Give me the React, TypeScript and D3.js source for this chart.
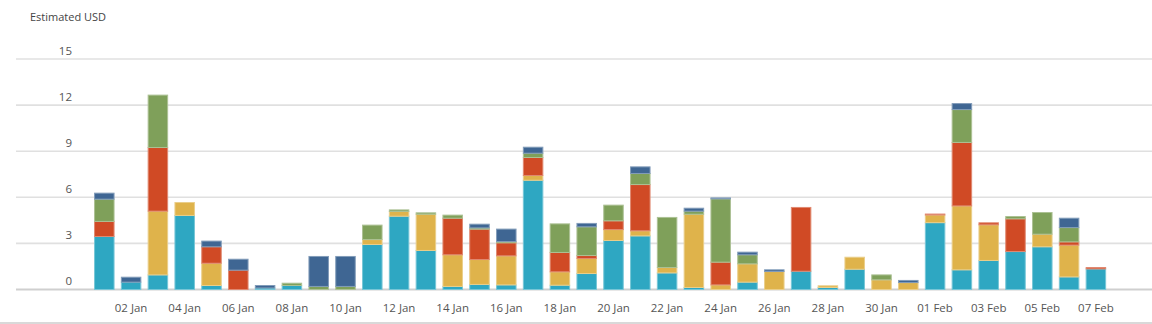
import React from "react";
import * as d3 from "d3";

const dates = [
  "01 Jan","02 Jan","03 Jan","04 Jan","05 Jan","06 Jan","07 Jan","08 Jan","09 Jan","10 Jan",
  "11 Jan","12 Jan","13 Jan","14 Jan","15 Jan","16 Jan","17 Jan","18 Jan","19 Jan","20 Jan",
  "21 Jan","22 Jan","23 Jan","24 Jan","25 Jan","26 Jan","27 Jan","28 Jan","29 Jan","30 Jan",
  "31 Jan","01 Feb","02 Feb","03 Feb","04 Feb","05 Feb","06 Feb","07 Feb",
];

const teal = [3.45,0.48,0.95,4.82,0.26,0,0.1,0.26,0,0,2.93,4.77,2.54,0.2,0.33,0.3,7.11,0.28,1.04,3.19,3.49,1.08,0.13,0,0.48,0,1.19,0.13,1.32,0,0,4.35,1.28,1.89,2.47,2.78,0.82,1.34];
const yellow = [0,0,4.15,0.84,1.45,0,0,0,0,0,0.32,0.31,2.36,2.06,1.62,1.89,0.31,0.87,0.98,0.71,0.33,0.35,4.77,0.3,1.19,1.17,0,0.11,0.78,0.63,0.45,0.5,4.16,2.32,0,0.82,2.07,0];
const red = [0.98,0,4.14,0,1.07,1.26,0,0,0,0,0,0,0,2.38,1.98,0.85,1.17,1.26,0.19,0.57,3.01,0,0,1.48,0,0,4.15,0,0,0,0,0.06,4.13,0.13,2.13,0,0.21,0.09];
const green = [1.45,0,3.41,0,0,0,0,0.15,0.2,0.2,0.94,0.1,0.09,0.2,0.08,0.08,0.28,1.86,1.87,1.02,0.72,3.26,0.2,4.12,0.59,0,0,0,0,0.32,0,0,2.14,0,0.15,1.41,0.93,0];
const blue = [0.39,0.32,0,0,0.37,0.71,0.16,0,1.95,1.95,0,0,0,0,0.24,0.81,0.39,0,0.22,0,0.43,0,0.19,0.06,0.17,0.11,0,0,0,0,0.14,0,0.39,0,0,0,0.61,0];

const seriesKeys = ["teal", "yellow", "red", "green", "blue"];
const seriesColors = ["#2ea7c2", "#dfb34b", "#d04a25", "#7fa05a", "#3f6693"];
const yTicks = [0, 3, 6, 9, 12, 15];

export default function App() {
  const W = 1152, H = 324;
  const rows = dates.map((d, i) => ({
    date: d, teal: teal[i], yellow: yellow[i], red: red[i], green: green[i], blue: blue[i],
  }));
  const stacked = d3.stack<any>().keys(seriesKeys)(rows);
  const x = d3.scaleBand<string>().domain(dates).range([90.9, 90.9 + 38 * 26.8]).paddingInner(0.235).paddingOuter(0.1175);
  const y = d3.scaleLinear().domain([0, 15]).range([289.5, 59]);
  const font = "'Open Sans', 'Noto Sans', sans-serif";
  const lighter = (c: string) => d3.interpolateRgb(c, "#ffffff")(0.35);

  return (
    <svg width={W} height={H} style={{ position: "absolute", left: 0, top: 0, background: "#fff" }} fontFamily={font}>
      <text x={30} y={21} fontSize={11} fill="#444">Estimated USD</text>
      {yTicks.map((t) => (
        <g key={t}>
          <line x1={16} x2={W} y1={y(t)} y2={y(t)} stroke={t === 0 ? "#cfcfcf" : "#e0e0e0"} strokeWidth={t === 0 ? 2 : 1.6} />
          <text x={72} y={y(t) - 4.5} fontSize={11.5} fill="#555" textAnchor="end">{t}</text>
        </g>
      ))}
      {stacked.map((s, si) => (
        <g key={s.key}>
          {s.map((d, i) => {
            const h = y(d[0]) - y(d[1]);
            if (h <= 0) return null;
            return (
              <rect key={i} x={x(dates[i])! + 0.5} y={y(d[1])} width={x.bandwidth() - 1} height={h}
                fill={seriesColors[si]} stroke={lighter(seriesColors[si])} strokeWidth={1} />
            );
          })}
        </g>
      ))}
      {dates.map((d, i) => i % 2 === 1 ? (
        <text key={d} x={x(d)! + x.bandwidth() / 2} y={311.5} fontSize={11.5} fill="#555" textAnchor="middle">{d}</text>
      ) : null)}
      <line x1={0} x2={W} y1={323} y2={323} stroke="#d9d9d9" strokeWidth={2} />
    </svg>
  );
}
